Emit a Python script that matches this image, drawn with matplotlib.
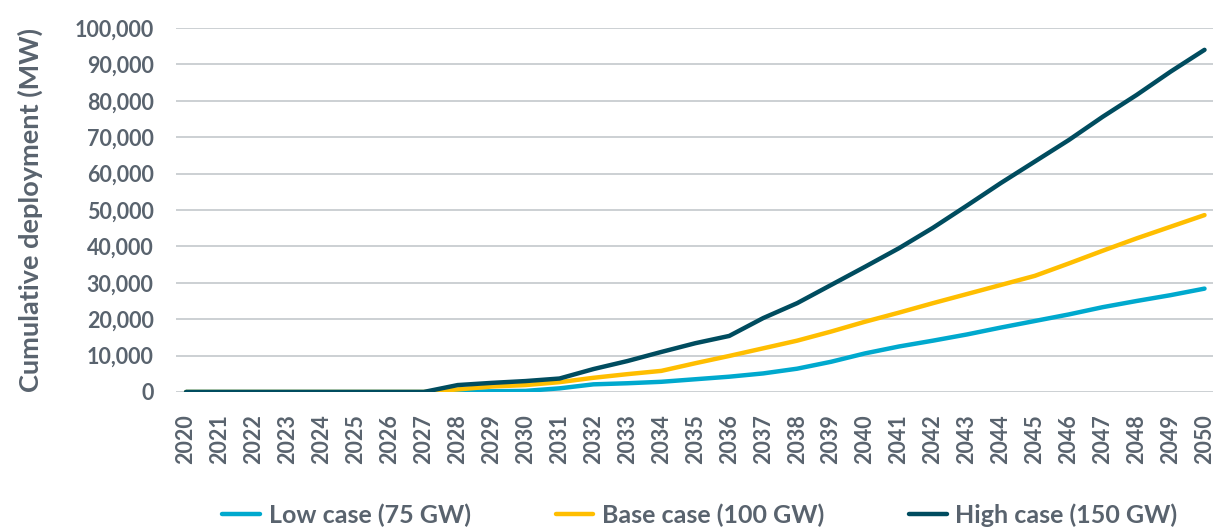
import numpy as np
import matplotlib
matplotlib.use("Agg")
import matplotlib.pyplot as plt
from matplotlib.ticker import FuncFormatter

plt.rcParams["font.family"] = ["Lato", "DejaVu Sans"]
plt.rcParams["font.weight"] = 700
TXT = "#59636E"
CYAN, GOLD, TEAL = "#00A9CE", "#FFBE00", "#004C5F"

years = list(range(2020, 2051))
low = [0, 0, 0, 0, 0, 0, 0, 0, 0, 200, 300, 1000, 2100, 2400, 2800, 3500, 4200, 5100, 6400,
       8300, 10600, 12500, 14100, 15800, 17700, 19500, 21300, 23300, 25000, 26600, 28400]
base = [0, 0, 0, 0, 0, 0, 0, 0, 700, 1500, 1900, 2700, 3900, 4900, 5800, 7900, 9900, 12000, 14100,
        16600, 19300, 21800, 24400, 26900, 29400, 31900, 35300, 38800, 42200, 45400, 48600]
high = [0, 0, 0, 0, 0, 0, 0, 0, 1900, 2500, 3000, 3700, 6300, 8500, 11000, 13400, 15400, 20300, 24400,
        29400, 34400, 39500, 45100, 51200, 57400, 63300, 69200, 75600, 81600, 88000, 94000]
names = ["Low case (75 GW)", "Base case (100 GW)", "High case (150 GW)"]

fig = plt.figure(figsize=(12.13, 5.28), dpi=100)
ax = fig.add_axes([0.145, 0.2576, 0.855, 0.6894])

for v, c, n in zip([low, base, high], [CYAN, GOLD, TEAL], names):
    ax.plot(years, v, color=c, lw=3.2, label=n, solid_capstyle="round", solid_joinstyle="round")

ax.set_xlim(2019.7, 2050.25)
ax.set_ylim(0, 100000)
ax.set_yticks(np.arange(0, 100001, 10000))
ax.yaxis.set_major_formatter(FuncFormatter(lambda v, p: f"{int(v):,}"))
ax.set_xticks(years)
ax.set_xticklabels([str(y) for y in years], rotation=90)
ax.tick_params(axis="both", length=0, colors=TXT, labelsize=15.5)
ax.tick_params(axis="y", pad=16)
ax.tick_params(axis="x", pad=16)
for t in ax.get_xticklabels() + ax.get_yticklabels():
    t.set_fontweight("bold")
ax.grid(axis="y", color="#BFC3C7", lw=1.1)
ax.set_axisbelow(True)
for s in ax.spines.values():
    s.set_visible(False)
ax.set_ylabel("Cumulative deployment (MW)", color=TXT, fontsize=19.5, fontweight="bold")
ax.yaxis.set_label_coords(-0.128, 0.5)

fig.legend(loc="lower center", ncol=3, bbox_to_anchor=(0.577, -0.04), frameon=False,
           labelcolor=TXT, columnspacing=3.4, handlelength=1.5, handletextpad=0.35,
           prop={"weight": "bold", "size": 18})

fig.savefig("out.png", dpi=100)
